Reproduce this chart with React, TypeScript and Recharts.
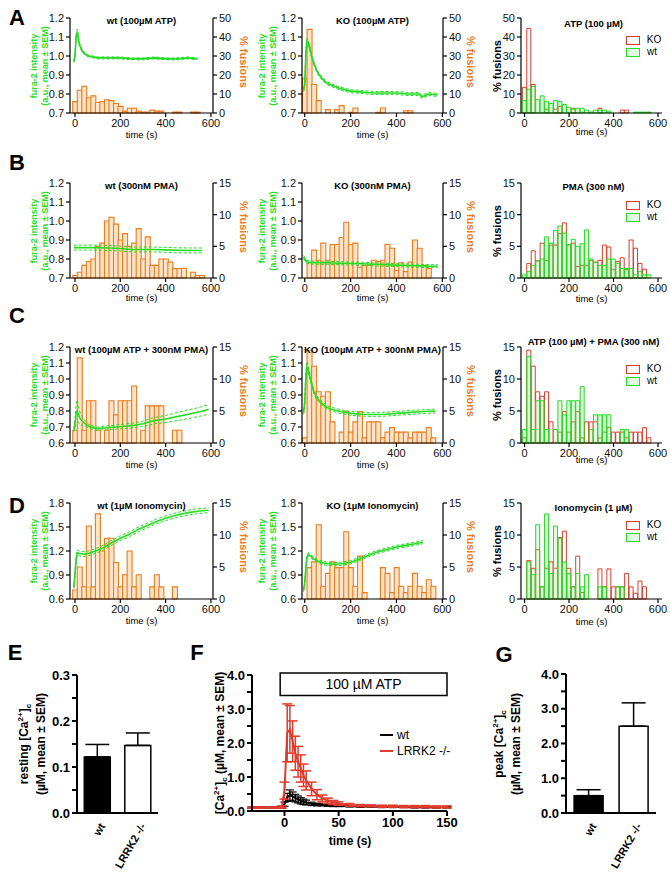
import React from 'react'
import {
  ComposedChart,
  BarChart,
  LineChart,
  Bar,
  Line,
  XAxis,
  YAxis,
  ErrorBar,
  ReferenceArea,
  Cell,
} from 'recharts'

const FONT = '"Liberation Sans", Arial, Helvetica, sans-serif'
const GREEN = '#22DD22'
const ORANGE = '#EE7A1C'
const ORANGE_FILL = '#FDE3C8'
const RED = '#E23A2A'
const WT_FILL = 'rgba(120,240,120,0.22)'

// bin centres (s) of every fusion histogram
const BINS = [0, 20, 40, 60, 80, 100, 120, 140, 160, 180, 200, 220, 240, 260, 280, 300, 320, 340, 360, 380, 400, 420, 440, 460, 480, 500, 520, 540, 560, 580]

// ---- row A: 100 µM ATP
const A1_FUS = [6, 12, 14, 8, 9, 5.5, 6, 7, 6.5, 5, 3.5, 1, 2.5, 2.5, 1, 0.5, 0.5, 1.5, 1, 1, 0, 0, 0.5, 0.5, 0, 0, 0.5, 0.5, 0, 0]
const A1_T = [-5, 0, 5, 10, 15, 20, 30, 40, 50, 60, 80, 100, 150, 200, 250, 300, 350, 400, 450, 500, 540]
const A1_M = [0.97, 1.0, 1.1, 1.13, 1.09, 1.06, 1.03, 1.015, 1.005, 1.0, 0.995, 0.99, 0.99, 0.99, 0.985, 0.985, 0.99, 0.985, 0.985, 0.99, 0.985]
const A1_SEM = [0.005, 0.008, 0.01, 0.012, 0.01, 0.008, 0.006, 0.005, 0.005, 0.005, 0.005, 0.005, 0.005, 0.005, 0.005, 0.005, 0.005, 0.005, 0.005, 0.005, 0.005]

const A2_FUS = [18, 44, 15, 6.5, 0, 1.8, 0, 1.8, 3.9, 0, 0.4, 2.6, 0, 0, 0, 0, 0.4, 2.6, 0, 0, 0, 0, 1.2, 1.2, 0, 0, 0, 0, 0, 0]
const A2_T = [-5, 0, 5, 10, 15, 20, 30, 40, 50, 60, 80, 100, 120, 150, 200, 250, 300, 350, 400, 450, 500, 510, 520, 540, 580]
const A2_M = [0.82, 0.85, 1.02, 1.08, 1.07, 1.05, 1.0, 0.96, 0.93, 0.905, 0.875, 0.855, 0.845, 0.83, 0.815, 0.81, 0.805, 0.805, 0.805, 0.8, 0.8, 0.785, 0.79, 0.8, 0.795]
const A2_SEM = [0.008, 0.01, 0.015, 0.015, 0.012, 0.01, 0.01, 0.008, 0.008, 0.008, 0.008, 0.008, 0.008, 0.008, 0.008, 0.008, 0.008, 0.008, 0.008, 0.008, 0.008, 0.008, 0.008, 0.008, 0.008]

const A3_KO = [13.5, 44.5, 15, 0, 0, 2, 0, 2, 3.5, 0, 0, 2.5, 0, 0, 0, 0, 0, 2.5, 0, 0, 0, 0, 1.5, 1.5, 0, 0, 0, 0, 0, 0]
const A3_WT = [6.5, 12.5, 14, 7, 9, 6, 5, 6.5, 6, 4.5, 3, 2, 2.5, 2.5, 1.5, 0.5, 1.5, 1.5, 1.5, 1, 0, 0, 0, 0, 0, 0.5, 0.5, 0.5, 0.5, 0]

// ---- row B: 300 nM PMA
const B1_FUS = [0.4, 0.9, 2, 2.6, 3, 5, 5.5, 9, 9.6, 8.5, 6, 7, 5, 5.5, 7.8, 3, 6.5, 2, 2, 3, 3, 2.5, 1.5, 1.5, 1.5, 0, 0.9, 0.4, 0.4, 0]
const B1_T = [-5, 50, 100, 150, 200, 250, 300, 350, 400, 450, 500, 560]
const B1_M = [0.86, 0.86, 0.86, 0.858, 0.855, 0.85, 0.85, 0.85, 0.848, 0.846, 0.845, 0.845]
const B1_SEM = [0.013, 0.013, 0.013, 0.013, 0.013, 0.013, 0.013, 0.013, 0.013, 0.013, 0.013, 0.013]

const B2_FUS = [0, 2.4, 4.4, 2.8, 5.5, 2.8, 5.3, 5.3, 6.4, 8.8, 5.3, 5.5, 1.7, 2, 2, 2.8, 2.6, 2.8, 5.3, 4.7, 1.2, 2.4, 1, 2.5, 6, 4.7, 2, 1.5, 0, 0]
const B2_T = [-5, 0, 5, 10, 20, 50, 100, 150, 200, 250, 300, 350, 400, 450, 500, 550, 580]
const B2_M = [0.81, 0.8, 0.79, 0.785, 0.782, 0.78, 0.78, 0.778, 0.776, 0.775, 0.772, 0.77, 0.768, 0.766, 0.764, 0.762, 0.762]
const B2_SEM = [0.008, 0.008, 0.008, 0.008, 0.008, 0.008, 0.008, 0.008, 0.008, 0.008, 0.008, 0.008, 0.008, 0.008, 0.008, 0.008, 0.008]

const B3_KO = [0, 2.3, 4.3, 2.7, 5.5, 2.8, 5.2, 5.2, 7.0, 8.7, 5.2, 5.5, 1.8, 2, 2, 2.8, 2.5, 2.8, 5.2, 4.9, 1.3, 2.6, 3.2, 1.3, 6, 4.7, 2.3, 1.4, 0, 0]
const B3_WT = [0.5, 1, 2, 2.7, 3, 6.5, 5.5, 7.5, 8.2, 7.1, 5.3, 6.1, 5, 5.4, 7.6, 3, 2.5, 2, 2, 3, 3, 2.3, 1.5, 1.5, 1.5, 0.5, 1, 0.5, 0.5, 0]

// ---- row C: 100 µM ATP + 300 nM PMA
const C1_FUS = [2, 13.3, 2, 6.6, 6.6, 2, 0, 2, 6.6, 4.4, 6.6, 6.6, 6.6, 8.9, 0, 2, 5.8, 5.8, 5.8, 5.8, 0, 0, 2, 2, 0, 0, 0, 0, 0, 0]
const C1_T = [-5, 0, 5, 10, 15, 20, 30, 40, 50, 60, 80, 100, 140, 180, 220, 260, 300, 350, 400, 450, 500, 550, 590]
const C1_M = [0.68, 0.72, 0.78, 0.8, 0.78, 0.76, 0.74, 0.725, 0.715, 0.705, 0.695, 0.69, 0.695, 0.7, 0.705, 0.71, 0.72, 0.74, 0.75, 0.765, 0.78, 0.795, 0.81]
const C1_SEM = [0.01, 0.03, 0.06, 0.07, 0.05, 0.04, 0.03, 0.02, 0.015, 0.012, 0.01, 0.01, 0.012, 0.013, 0.014, 0.015, 0.017, 0.02, 0.022, 0.025, 0.027, 0.028, 0.03]

const C2_FUS = [0.8, 14.5, 12, 8, 7.3, 8, 3.3, 0, 1.7, 4.9, 1.7, 3.3, 4.9, 0.8, 3.3, 3.3, 3.3, 0.8, 1.7, 2.4, 1.7, 1.7, 1.7, 0.8, 1.7, 1.7, 1.7, 2.4, 0.8, 0]
const C2_T = [-5, 0, 5, 10, 15, 20, 25, 30, 40, 50, 60, 80, 100, 120, 160, 200, 250, 300, 350, 400, 450, 500, 570]
const C2_M = [0.79, 0.85, 1.02, 1.08, 1.06, 1.03, 1.0, 0.97, 0.92, 0.89, 0.87, 0.84, 0.82, 0.81, 0.795, 0.785, 0.78, 0.778, 0.78, 0.785, 0.79, 0.795, 0.8]
const C2_SEM = [0.012, 0.02, 0.03, 0.03, 0.025, 0.02, 0.015, 0.012, 0.012, 0.012, 0.012, 0.012, 0.012, 0.012, 0.012, 0.012, 0.012, 0.012, 0.012, 0.012, 0.012, 0.012, 0.012]

const C3_KO = [0.8, 14.5, 12, 8, 7.3, 8, 3.3, 0, 1.7, 4.9, 1.7, 3.3, 4.9, 0.8, 3.3, 3.3, 3.3, 0.8, 1.7, 2.4, 1.7, 1.7, 1.7, 0.8, 1.7, 1.7, 1.7, 2.4, 0.8, 0]
const C3_WT = [2.1, 13.5, 2.1, 6.6, 6.6, 2.1, 0, 2.1, 6.6, 4.4, 6.6, 6.6, 6.6, 8.8, 0, 2.1, 4.4, 4.4, 4.4, 4.4, 0, 0, 2.1, 2.1, 0, 0, 0, 0, 0, 0]

// ---- row D: 1 µM ionomycin
const D1_FUS = [1.4, 5, 1.9, 11.4, 1.9, 13.3, 7.5, 9.5, 9.5, 5.7, 1.9, 3.8, 7.5, 1.9, 3.8, 0, 0, 1.9, 3.8, 1.9, 0, 0, 1.9, 0, 0, 0, 0, 0, 0, 0]
const D1_T = [-5, 0, 5, 10, 20, 40, 60, 80, 100, 130, 160, 200, 240, 280, 320, 360, 400, 450, 500, 550, 590]
const D1_M = [0.75, 0.9, 1.1, 1.18, 1.17, 1.16, 1.17, 1.19, 1.21, 1.25, 1.3, 1.36, 1.41, 1.47, 1.52, 1.57, 1.61, 1.65, 1.68, 1.7, 1.71]
const D1_SEM = [0.02, 0.03, 0.03, 0.03, 0.03, 0.03, 0.03, 0.03, 0.03, 0.03, 0.03, 0.03, 0.03, 0.03, 0.03, 0.03, 0.03, 0.03, 0.03, 0.03, 0.03]

const D2_FUS = [0, 4.9, 5.8, 11.6, 2, 4, 5.8, 4.9, 4.9, 10.5, 4.9, 2, 6.7, 1, 0, 0, 0, 4.9, 4, 1, 4.9, 2, 1, 2, 4, 2, 1, 3, 2, 0]
const D2_T = [-5, 0, 5, 10, 15, 25, 40, 60, 80, 100, 130, 160, 200, 240, 280, 320, 360, 400, 440, 480, 515]
const D2_M = [0.71, 0.8, 1.0, 1.12, 1.16, 1.14, 1.1, 1.07, 1.05, 1.04, 1.035, 1.04, 1.06, 1.1, 1.15, 1.19, 1.22, 1.25, 1.27, 1.29, 1.31]
const D2_SEM = [0.02, 0.02, 0.02, 0.02, 0.02, 0.02, 0.02, 0.02, 0.02, 0.02, 0.02, 0.02, 0.02, 0.02, 0.02, 0.02, 0.02, 0.02, 0.02, 0.02, 0.02]

const D3_KO = [0, 6, 4.8, 7.7, 1.9, 4.8, 5.8, 4.8, 9.6, 10.6, 4.8, 1.9, 6.7, 1, 0, 0, 0, 4.7, 1.9, 4.7, 1.9, 1.9, 1.9, 4, 1.9, 0.9, 2.8, 1.9, 0, 0]
const D3_WT = [0, 5.8, 3.8, 11.6, 1.9, 13.3, 4, 11.4, 9.5, 5.8, 4, 1.9, 4, 1.9, 3.8, 0, 0, 1.9, 1.9, 0, 0, 1.9, 1.9, 0, 0, 0, 0, 0, 0, 0]

// ---- E / G: resting and peak [Ca2+]c
const GENOTYPES = ['wt', 'LRRK2 -/-']
const E_MEAN = [0.122, 0.147]
const E_SEM = [0.027, 0.027]
const G_MEAN = [0.5, 2.5]
const G_SEM = [0.17, 0.67]

// ---- F: [Ca2+]c time course after 100 µM ATP
const F_T = [-30, -20, -10, -5, -2.5, 0, 2.5, 5, 7.5, 10, 12.5, 15, 17.5, 20, 25, 30, 35, 40, 45, 50, 60, 70, 80, 90, 100, 110, 120, 130, 140, 150]
const F_WT = [0.1, 0.1, 0.1, 0.1, 0.1, 0.2, 0.4, 0.47, 0.43, 0.38, 0.34, 0.3, 0.27, 0.25, 0.21, 0.19, 0.18, 0.17, 0.16, 0.15, 0.14, 0.13, 0.13, 0.12, 0.12, 0.12, 0.11, 0.11, 0.11, 0.11]
const F_WT_SEM = [0.02, 0.02, 0.02, 0.02, 0.02, 0.06, 0.12, 0.15, 0.13, 0.11, 0.1, 0.09, 0.08, 0.07, 0.05, 0.04, 0.03, 0.03, 0.03, 0.02, 0.02, 0.02, 0.02, 0.02, 0.02, 0.02, 0.02, 0.02, 0.02, 0.02]
const F_KO = [0.1, 0.1, 0.1, 0.1, 0.12, 0.6, 2.3, 2.4, 2.05, 1.7, 1.45, 1.25, 1.05, 0.9, 0.65, 0.48, 0.37, 0.3, 0.25, 0.22, 0.18, 0.16, 0.15, 0.14, 0.14, 0.13, 0.13, 0.13, 0.12, 0.12]
const F_KO_SEM = [0.02, 0.02, 0.02, 0.02, 0.03, 0.25, 0.85, 0.7, 0.6, 0.5, 0.45, 0.4, 0.33, 0.28, 0.2, 0.15, 0.1, 0.08, 0.06, 0.05, 0.04, 0.03, 0.03, 0.03, 0.03, 0.03, 0.03, 0.03, 0.03, 0.03]

// plain text placed on the page, centred on (x, y)
function Txt({ x, y, children, size = 10, bold = false, color = '#000', rot = 0 }: any) {
  return (
    <div style={{
      position: 'absolute', left: x, top: y,
      transform: `translate(-50%,-50%) rotate(${rot}deg)`,
      fontSize: size, fontWeight: bold ? 700 : 400, color,
      whiteSpace: 'nowrap', lineHeight: 1.2, textAlign: 'center', fontFamily: FONT,
    }}>{children}</div>
  )
}

const LW = 32
const RW = 28
const TOPM = 8
const XH = 18
const smallTick = { fontSize: 11, fill: '#111', fontFamily: FONT }
const axisLine = { stroke: '#000', strokeWidth: 1.2 }

const COLS = [
  { x: 70, w: 143, dom: [-22, 609] as [number, number], lab: 40, rlab: 243 },
  { x: 302, w: 141, dom: [-12, 603] as [number, number], lab: 268, rlab: 470 },
  { x: 521, w: 141, dom: [-16, 618] as [number, number], lab: 498, rlab: 0 },
]

function Combo({ col, y, h, title, fus, t, m, sem, lDom, lTicks, rDom, rTicks, titleY, timeY }: any) {
  const c = COLS[col]
  const bars = BINS.map((b, i) => ({ t: b, v: fus[i] }))
  const trace = t.map((tt: number, i: number) => ({ t: tt, m: m[i], hi: m[i] + sem[i], lo: m[i] - sem[i] }))
  const cy = y + h / 2
  return (
    <>
      <div style={{ position: 'absolute', left: c.x - LW, top: y - TOPM }}>
        <ComposedChart width={LW + c.w + RW} height={TOPM + h + XH} data={bars}
          margin={{ top: TOPM, right: 0, bottom: 0, left: 0 }} barCategoryGap={0} barGap={0}>
          <XAxis xAxisId="bins" dataKey="t" type="number" domain={c.dom} allowDataOverflow
            ticks={[0, 200, 400, 600]} interval={0} height={XH} tick={smallTick} tickSize={4}
            axisLine={axisLine} tickLine={axisLine} />
          <XAxis xAxisId="trace" dataKey="t" type="number" domain={c.dom} allowDataOverflow hide />
          <YAxis yAxisId="fura" domain={lDom} ticks={lTicks} interval={0} allowDataOverflow width={LW}
            tick={smallTick} tickSize={4} axisLine={axisLine} tickLine={axisLine}
            tickFormatter={(v: number) => v.toFixed(1)} />
          <YAxis yAxisId="fus" orientation="right" domain={rDom} ticks={rTicks} interval={0} width={RW}
            tick={smallTick} tickSize={4} axisLine={axisLine} tickLine={axisLine} />
          <Bar xAxisId="bins" yAxisId="fus" dataKey="v" fill={ORANGE_FILL} stroke={ORANGE}
            strokeWidth={1.1} isAnimationActive={false} />
          <Line xAxisId="trace" yAxisId="fura" data={trace} dataKey="hi" stroke={GREEN} strokeWidth={1}
            strokeDasharray="3 2" dot={false} isAnimationActive={false} />
          <Line xAxisId="trace" yAxisId="fura" data={trace} dataKey="lo" stroke={GREEN} strokeWidth={1}
            strokeDasharray="3 2" dot={false} isAnimationActive={false} />
          <Line xAxisId="trace" yAxisId="fura" data={trace} dataKey="m" stroke={GREEN} strokeWidth={1.6}
            dot={false} isAnimationActive={false} />
        </ComposedChart>
      </div>
      <Txt x={c.x + c.w / 2} y={titleY} size={9.5} bold>{title}</Txt>
      <Txt x={c.x + c.w / 2} y={timeY} size={9.5}>time (s)</Txt>
      <Txt x={c.lab} y={cy} size={9} bold color={GREEN} rot={-90}>fura-2 intensity<br />(a.u., mean ± SEM)</Txt>
      <Txt x={c.rlab} y={cy - 4} size={11} bold color={ORANGE} rot={90}>% fusions</Txt>
    </>
  )
}

function Hist({ y, h, title, ko, wt, yDom, yTicks, titleY, timeY }: any) {
  const c = COLS[2]
  const data = BINS.map((b, i) => ({ t: b, ko: ko[i], wt: wt[i] }))
  const cy = y + h / 2
  return (
    <>
      <div style={{ position: 'absolute', left: c.x - LW, top: y - TOPM }}>
        <ComposedChart width={LW + c.w + 8} height={TOPM + h + XH} data={data}
          margin={{ top: TOPM, right: 8, bottom: 0, left: 0 }} barCategoryGap={0} barGap={0}>
          <XAxis xAxisId="ko" dataKey="t" type="number" domain={c.dom} allowDataOverflow
            ticks={[0, 200, 400, 600]} interval={0} height={XH} tick={smallTick} tickSize={4}
            axisLine={axisLine} tickLine={axisLine} />
          <XAxis xAxisId="wt" dataKey="t" type="number" domain={c.dom} allowDataOverflow hide />
          <YAxis domain={yDom} ticks={yTicks} interval={0} width={LW} tick={smallTick} tickSize={4}
            axisLine={axisLine} tickLine={axisLine} />
          <Bar xAxisId="ko" dataKey="ko" fill="none" stroke={RED} strokeWidth={1} isAnimationActive={false} />
          <Bar xAxisId="wt" dataKey="wt" fill={WT_FILL} stroke={GREEN} strokeWidth={1} isAnimationActive={false} />
        </ComposedChart>
      </div>
      <Txt x={c.x + c.w / 2 + 2} y={titleY} size={9.5} bold>{title}</Txt>
      <Txt x={c.x + c.w / 2} y={timeY} size={9.5}>time (s)</Txt>
      <Txt x={c.lab} y={cy} size={11} bold rot={-90}>% fusions</Txt>
      <div style={{ position: 'absolute', left: 626, top: y + 18, width: 12, height: 7, border: `1.5px solid ${RED}` }} />
      <Txt x={654} y={y + 22} size={10}>KO</Txt>
      <div style={{ position: 'absolute', left: 626, top: y + 30, width: 12, height: 7, border: `1.5px solid ${GREEN}`, background: WT_FILL }} />
      <Txt x={652} y={y + 34} size={10}>wt</Txt>
    </>
  )
}

const boldTick = { fontSize: 13, fontWeight: 700, fill: '#000', fontFamily: FONT }
const thickAxis = { stroke: '#000', strokeWidth: 2 }

function CatTick(props: any) {
  const { x, y, payload } = props
  return (
    <text x={x + 5} y={y + 3} transform={`rotate(-60 ${x + 5} ${y + 3})`} textAnchor="end"
      dominantBaseline="central" fontSize={11} fontWeight={700} fontFamily={FONT}>{payload.value}</text>
  )
}

function Summary({ x, y, w, h, mean, sem, dom, ticks, digits }: any) {
  const data = GENOTYPES.map((g, i) => ({ g, v: mean[i], e: [0, sem[i]] }))
  const YW = 44
  return (
    <div style={{ position: 'absolute', left: x - YW, top: y - 8 }}>
      <BarChart width={YW + w + 4} height={8 + h + 56} data={data}
        margin={{ top: 8, right: 4, bottom: 0, left: 0 }} barCategoryGap="18%">
        <XAxis dataKey="g" height={56} tick={<CatTick />} tickLine={false} axisLine={thickAxis} interval={0} />
        <YAxis domain={dom} ticks={ticks} interval={0} width={YW} tick={boldTick} tickSize={5}
          axisLine={thickAxis} tickLine={thickAxis}
          tickFormatter={(v: number) => (Math.abs(v / digits - Math.round(v / digits)) < 1e-6 ? v.toFixed(1) : '')} />
        <Bar dataKey="v" stroke="#000" strokeWidth={1.5} isAnimationActive={false}>
          {data.map((d, i) => <Cell key={d.g} fill={i === 0 ? '#000' : '#fff'} />)}
          <ErrorBar dataKey="e" width={12} stroke="#000" strokeWidth={1.5} />
        </Bar>
      </BarChart>
    </div>
  )
}

function TimeCourse() {
  const data = F_T.map((t, i) => ({ t, wt: F_WT[i], wtE: F_WT_SEM[i], ko: F_KO[i], koE: F_KO_SEM[i] }))
  const x = 252, y = 675, w = 195, h = 136, YW = 44
  return (
    <div style={{ position: 'absolute', left: x - YW, top: y - 8 }}>
      <LineChart width={YW + w + 12} height={8 + h + 24} data={data}
        margin={{ top: 8, right: 12, bottom: 0, left: 0 }}>
        <XAxis dataKey="t" type="number" domain={[-30, 150]} ticks={[0, 50, 100, 150]} interval={0}
          height={24} tick={boldTick} tickSize={5} axisLine={thickAxis} tickLine={thickAxis} />
        <YAxis domain={[0, 4]} ticks={[0, 0.5, 1, 1.5, 2, 2.5, 3, 3.5, 4]} interval={0} width={YW}
          tick={boldTick} tickSize={5} axisLine={thickAxis} tickLine={thickAxis}
          tickFormatter={(v: number) => (Number.isInteger(v) ? v.toFixed(1) : '')} />
        <ReferenceArea x1={-4} x2={150} y1={3.4} y2={4.06} ifOverflow="visible" fill="#fff" fillOpacity={1}
          stroke="#000" strokeWidth={1.5}
          label={{ value: '100 µM ATP', position: 'center', fontSize: 14, fill: '#000', fontFamily: FONT }} />
        <Line dataKey="wt" stroke="#000" strokeWidth={2} dot={false} isAnimationActive={false}>
          <ErrorBar dataKey="wtE" width={4} stroke="#000" strokeWidth={1.2} />
        </Line>
        <Line dataKey="ko" stroke={RED} strokeWidth={2} dot={false} isAnimationActive={false}>
          <ErrorBar dataKey="koE" width={5} stroke={RED} strokeWidth={1.5} />
        </Line>
      </LineChart>
    </div>
  )
}

export default function App() {
  const t12 = [0.7, 0.8, 0.9, 1.0, 1.1, 1.2]
  const t06 = [0.6, 0.7, 0.8, 0.9, 1.0, 1.1, 1.2]
  const tIono = [0.6, 0.9, 1.2, 1.5, 1.8]
  const p50 = [0, 10, 20, 30, 40, 50]
  const p15 = [0, 5, 10, 15]
  return (
    <div style={{ position: 'absolute', left: 0, top: 0, width: 670, height: 872, background: '#fff', fontFamily: FONT, overflow: 'hidden' }}>
      {/* row A */}
      <Combo col={0} y={18} h={95} title="wt (100µM ATP)" fus={A1_FUS} t={A1_T} m={A1_M} sem={A1_SEM}
        lDom={[0.7, 1.2]} lTicks={t12} rDom={[0, 50]} rTicks={p50} titleY={21} timeY={135} />
      <Combo col={1} y={18} h={95} title="KO (100µM ATP)" fus={A2_FUS} t={A2_T} m={A2_M} sem={A2_SEM}
        lDom={[0.7, 1.2]} lTicks={t12} rDom={[0, 50]} rTicks={p50} titleY={21} timeY={135} />
      <Hist y={18} h={95} title="ATP (100 µM)" ko={A3_KO} wt={A3_WT} yDom={[0, 50]} yTicks={p50} titleY={24} timeY={132} />

      {/* row B */}
      <Combo col={0} y={183} h={95} title="wt (300nM PMA)" fus={B1_FUS} t={B1_T} m={B1_M} sem={B1_SEM}
        lDom={[0.7, 1.2]} lTicks={t12} rDom={[0, 15]} rTicks={p15} titleY={186} timeY={298} />
      <Combo col={1} y={183} h={95} title="KO (300nM PMA)" fus={B2_FUS} t={B2_T} m={B2_M} sem={B2_SEM}
        lDom={[0.7, 1.2]} lTicks={t12} rDom={[0, 15]} rTicks={p15} titleY={186} timeY={298} />
      <Hist y={183} h={95} title="PMA (300 nM)" ko={B3_KO} wt={B3_WT} yDom={[0, 15]} yTicks={p15} titleY={187} timeY={299} />

      {/* row C */}
      <Combo col={0} y={347} h={96} title="wt (100µM ATP + 300nM PMA)" fus={C1_FUS} t={C1_T} m={C1_M} sem={C1_SEM}
        lDom={[0.6, 1.2]} lTicks={t06} rDom={[0, 15]} rTicks={p15} titleY={350} timeY={465} />
      <Combo col={1} y={347} h={96} title="KO (100µM ATP + 300nM PMA)" fus={C2_FUS} t={C2_T} m={C2_M} sem={C2_SEM}
        lDom={[0.6, 1.2]} lTicks={t06} rDom={[0, 15]} rTicks={p15} titleY={350} timeY={465} />
      <Hist y={347} h={96} title="ATP (100 µM) + PMA (300 nM)" ko={C3_KO} wt={C3_WT} yDom={[0, 15]} yTicks={p15} titleY={342} timeY={460} />

      {/* row D */}
      <Combo col={0} y={503} h={96} title="wt (1µM Ionomycin)" fus={D1_FUS} t={D1_T} m={D1_M} sem={D1_SEM}
        lDom={[0.6, 1.8]} lTicks={tIono} rDom={[0, 15]} rTicks={p15} titleY={506} timeY={621} />
      <Combo col={1} y={503} h={96} title="KO (1µM Ionomycin)" fus={D2_FUS} t={D2_T} m={D2_M} sem={D2_SEM}
        lDom={[0.6, 1.8]} lTicks={tIono} rDom={[0, 15]} rTicks={p15} titleY={506} timeY={621} />
      <Hist y={503} h={96} title="Ionomycin (1 µM)" ko={D3_KO} wt={D3_WT} yDom={[0, 15]} yTicks={p15} titleY={508} timeY={622} />

      {/* row E F G */}
      <Summary x={77} y={675} w={81} h={138} mean={E_MEAN} sem={E_SEM} dom={[0, 0.3]}
        ticks={[0, 0.05, 0.1, 0.15, 0.2, 0.25, 0.3]} digits={0.1} />
      <Txt x={32} y={744} size={12} bold rot={-90}>resting [Ca<sup style={{ fontSize: 8 }}>2+</sup>]<sub style={{ fontSize: 8 }}>c</sub><br />(µM, mean ± SEM)</Txt>

      <TimeCourse />
      <Txt x={221} y={743} size={12} bold rot={-90}>[Ca<sup style={{ fontSize: 8 }}>2+</sup>]<sub style={{ fontSize: 8 }}>c</sub> (µM, mean ± SEM)</Txt>
      <Txt x={350} y={841} size={12} bold>time (s)</Txt>
      <div style={{ position: 'absolute', left: 380, top: 734, width: 13, height: 2, background: '#000' }} />
      <div style={{ position: 'absolute', left: 397, top: 728, fontSize: 12, fontFamily: FONT }}>wt</div>
      <div style={{ position: 'absolute', left: 380, top: 750, width: 13, height: 2, background: RED }} />
      <div style={{ position: 'absolute', left: 397, top: 744, fontSize: 12, fontFamily: FONT }}>LRRK2 -/-</div>

      <Summary x={566} y={674} w={90} h={139} mean={G_MEAN} sem={G_SEM} dom={[0, 4]}
        ticks={[0, 0.5, 1, 1.5, 2, 2.5, 3, 3.5, 4]} digits={1} />
      <Txt x={507} y={744} size={12} bold rot={-90}>peak [Ca<sup style={{ fontSize: 8 }}>2+</sup>]<sub style={{ fontSize: 8 }}>c</sub><br />(µM, mean ± SEM)</Txt>

      {/* panel letters */}
      <Txt x={17} y={18} size={22} bold>A</Txt>
      <Txt x={17} y={163} size={22} bold>B</Txt>
      <Txt x={17} y={316} size={22} bold>C</Txt>
      <Txt x={17} y={506} size={22} bold>D</Txt>
      <Txt x={15} y={653} size={22} bold>E</Txt>
      <Txt x={197} y={653} size={22} bold>F</Txt>
      <Txt x={504} y={655} size={22} bold>G</Txt>
    </div>
  )
}
